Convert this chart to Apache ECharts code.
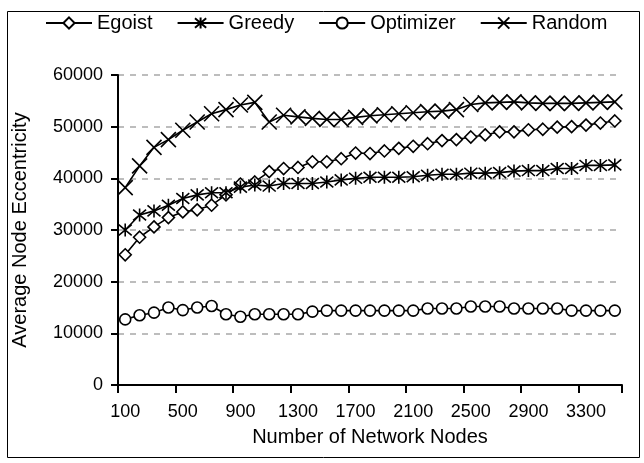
<!DOCTYPE html>
<html>
<head>
<meta charset="utf-8">
<script src="https://cdn.jsdelivr.net/npm/echarts@6/dist/echarts.min.js"></script>
<style>
html,body{margin:0;padding:0;background:#fff;}
#chart{width:644px;height:463px;}
</style>
</head>
<body>
<div id="chart"></div>
<script>
const categories = ['100','200','300','400','500','600','700','800','900','1000','1100','1200','1300','1400','1500','1600','1700','1800','1900','2000','2100','2200','2300','2400','2500','2600','2700','2800','2900','3000','3100','3200','3300','3400','3500'];
const egoist = [25200,28600,30600,32400,33500,33900,34800,36800,38900,39300,41300,41900,42100,43200,43200,43800,44900,44800,45300,45800,46200,46700,47300,47500,48000,48400,49000,49000,49400,49500,49900,50000,50300,50700,51100];
const greedy = [30000,32900,33700,34800,36100,36800,37200,37200,38300,38700,38500,39000,39000,39000,39300,39700,40000,40200,40200,40200,40300,40600,40800,40800,41000,41000,41100,41400,41500,41500,41900,41900,42500,42500,42600];
const optimizer = [12700,13500,14000,15000,14500,15000,15300,13700,13200,13700,13700,13700,13700,14200,14400,14400,14400,14400,14400,14400,14400,14800,14800,14800,15200,15200,15200,14800,14800,14800,14800,14400,14400,14400,14400];
const random = [38200,42400,46000,47500,49300,50900,52500,53300,54200,54700,50900,52200,51900,51600,51400,51400,51800,52100,52300,52500,52700,52900,53000,53300,54300,54600,54700,54800,54600,54500,54500,54500,54600,54700,54800];
const seriesNames = ['Egoist','Greedy','Optimizer','Random'];

const FONT = 'Liberation Sans, Arial, sans-serif';
const STAR = 'path://M0,0 L10,10 M10,0 L0,10 M5,-1 L5,11';
const CROSS = 'path://M0,0 L10,10 M10,0 L0,10';

function mk(name, data, symbol, size) {
  return {
    name: name, type: 'line', data: data,
    symbol: symbol, symbolSize: size, showAllSymbol: true,
    lineStyle: {color: '#000', width: 1.6},
    itemStyle: {color: '#fff', borderColor: '#000', borderWidth: 1.6},
    emphasis: {disabled: true},
    animation: false
  };
}

const chart = echarts.init(document.getElementById('chart'), null, {renderer: 'canvas'});
chart.setOption({
  animation: false,
  backgroundColor: '#fff',
  graphic: [{
    type: 'rect', left: 5, top: 9, shape: {width: 632, height: 446},
    style: {fill: 'none', stroke: '#000', lineWidth: 1}, silent: true, z: -1
  }],
  legend: {
    data: seriesNames, top: 8, left: 40,
    itemWidth: 46, itemHeight: 14, itemGap: 24,
    textStyle: {fontFamily: FONT, fontSize: 20, color: '#000'}
  },
  grid: {left: 118, right: 22, top: 75, bottom: 78, outerBoundsMode: 'none', containLabel: false},
  xAxis: {
    type: 'category', data: categories, boundaryGap: true,
    name: 'Number of Network Nodes', nameLocation: 'middle', nameGap: 42,
    nameTextStyle: {fontFamily: FONT, fontSize: 20, color: '#000'},
    axisLine: {lineStyle: {color: '#000', width: 2}},
    axisTick: {show: true, interval: 3, length: 8, alignWithLabel: false, lineStyle: {color: '#000', width: 2}},
    axisLabel: {interval: 3, margin: 18, fontFamily: FONT, fontSize: 18, color: '#000'},
    splitLine: {show: false}
  },
  yAxis: {
    type: 'value', min: 0, max: 60000, interval: 10000,
    name: 'Average Node Eccentricity', nameLocation: 'middle', nameGap: 88, nameRotate: 90,
    nameTextStyle: {fontFamily: FONT, fontSize: 20, color: '#000'},
    axisLine: {show: true, lineStyle: {color: '#000', width: 2}},
    axisTick: {show: true, length: 7, lineStyle: {color: '#000', width: 2}},
    axisLabel: {margin: 15, fontFamily: FONT, fontSize: 18, color: '#000', formatter: function (v) { return String(v); }},
    splitLine: {show: true, lineStyle: {color: '#bdbdbd', width: 2, type: [6, 6]}}
  },
  series: [
    mk(seriesNames[0], egoist, 'diamond', 12),
    mk(seriesNames[1], greedy, STAR, 13),
    mk(seriesNames[2], optimizer, 'circle', 11),
    mk(seriesNames[3], random, CROSS, 15)
  ]
});
</script>
</body>
</html>
